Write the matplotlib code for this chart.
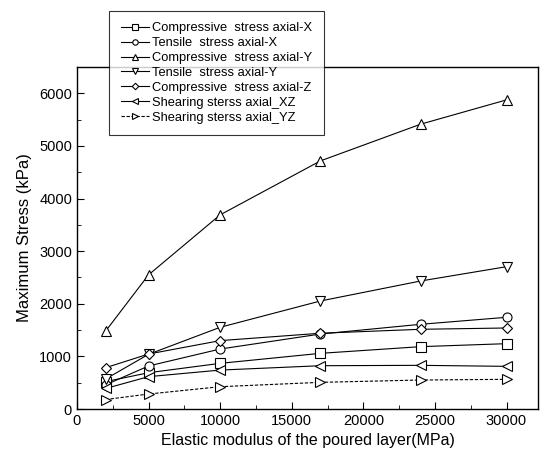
import matplotlib
matplotlib.use('Agg')
from matplotlib import pyplot as plt
from matplotlib.ticker import MultipleLocator

plt.rcParams['font.family'] = ['Liberation Sans', 'DejaVu Sans']

# modulo elastico de la capa vertida (MPa)
modulo = [2000, 5000, 10000, 17000, 24000, 30000]

# esfuerzos maximos (kPa)
comp_x = [520, 690, 868, 1058, 1185, 1242]
tens_x = [460, 818, 1140, 1425, 1610, 1743]
comp_y = [1480, 2550, 3690, 4715, 5413, 5875]
tens_y = [570, 1040, 1553, 2053, 2433, 2705]
comp_z = [785, 1045, 1300, 1440, 1515, 1540]
corte_xz = [390, 615, 740, 823, 830, 811]
corte_yz = [180, 285, 424, 507, 551, 564]

series = [
    (comp_x, 's', '-', 'Compressive  stress axial-X'),
    (tens_x, 'o', '-', 'Tensile  stress axial-X'),
    (comp_y, '^', '-', 'Compressive  stress axial-Y'),
    (tens_y, 'v', '-', 'Tensile  stress axial-Y'),
    (comp_z, 'D', '-', 'Compressive  stress axial-Z'),
    (corte_xz, '<', '-', 'Shearing sterss axial_XZ'),
    (corte_yz, '>', (0, (3, 1.5)), 'Shearing sterss axial_YZ'),
]

fig = plt.figure(figsize=(5.44, 4.53), dpi=100)
ax = fig.add_axes([0.1415, 0.0971, 0.8475, 0.755])

for datos, marca, estilo, nombre in series:
    ms = 5.5 if marca == 'D' else 6.5
    ax.plot(modulo, datos, color='black', linestyle=estilo, linewidth=0.8,
            marker=marca, markersize=ms, markerfacecolor='white',
            markeredgecolor='black', markeredgewidth=0.8, label=nombre)

ax.set_xlim(0, 32200)
ax.set_ylim(0, 6500)
ax.xaxis.set_major_locator(MultipleLocator(5000))
ax.xaxis.set_minor_locator(MultipleLocator(2500))
ax.yaxis.set_major_locator(MultipleLocator(1000))
ax.yaxis.set_minor_locator(MultipleLocator(500))
ax.tick_params(which='both', direction='in', top=False, right=False, labelsize=10.5)
ax.tick_params(which='major', length=5)
ax.tick_params(which='minor', length=3)
for s in ax.spines.values():
    s.set_linewidth(1.0)

ax.set_xlabel('Elastic modulus of the poured layer(MPa)', fontsize=11.5, labelpad=4)
ax.set_ylabel('Maximum Stress (kPa)', fontsize=12, labelpad=5)

leg = ax.legend(loc='upper left', bbox_to_anchor=(109 / 544, 1 - 10.7 / 453),
                bbox_transform=fig.transFigure, fontsize=9.3, frameon=True,
                fancybox=False, edgecolor='black', handlelength=2.2,
                handletextpad=0.25, labelspacing=0.22, borderpad=0.9,
                borderaxespad=0, markerscale=0.6)
leg.get_frame().set_linewidth(0.8)
leg.set_zorder(5)

fig.savefig('out.png', dpi=100)
